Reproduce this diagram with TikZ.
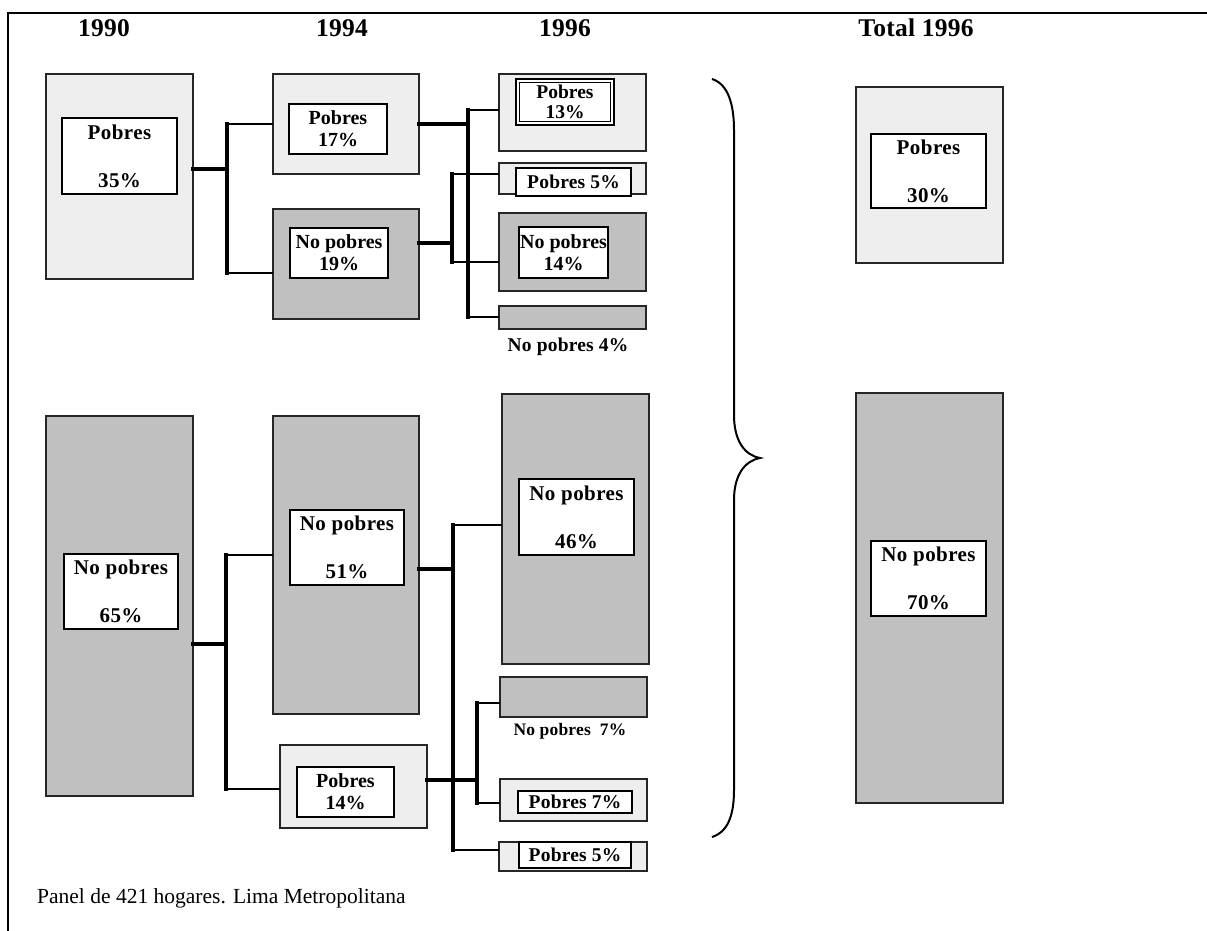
\documentclass[tikz,border=0pt]{standalone}
\usepackage{fontspec}
\setmainfont{Liberation Serif}
\newfontfamily\spacedf{Liberation Serif}[LetterSpace=2]
\newfontfamily\smallf{Liberation Serif}[LetterSpace=1]
\usetikzlibrary{fit}
\definecolor{lightfill}{HTML}{EEEEEE}
\definecolor{darkfill}{HTML}{C0C0C0}
\tikzset{
  basebox/.style={draw=black!85, line width=1.3pt, inner sep=0pt, outer sep=0pt},
  lightbox/.style={basebox, fill=lightfill},
  darkbox/.style={basebox, fill=darkfill},
  whitebox/.style={draw=black, line width=1.3pt, fill=white, inner sep=0pt, outer sep=0pt},
  label/.style={inner sep=0pt, align=center, font=\spacedf\bfseries\fontsize{21}{22}\selectfont},
  tightlabel/.style={inner sep=0pt, align=center, font=\bfseries\fontsize{20}{22}\selectfont},
  smalllabel/.style={inner sep=0pt, align=center, font=\smallf\bfseries\fontsize{19.5}{20}\selectfont},
  header/.style={font=\smallf\bfseries\fontsize{25.5}{28}\selectfont},
  thickc/.style={line width=4pt, line cap=rect},
  thinc/.style={line width=1.5pt},
}
\begin{document}
\begin{tikzpicture}[x=1pt, y=-1pt]
\useasboundingbox (0,0) rectangle (1207,931);
% frame
\draw[line width=2pt] (8,931) -- (8,13) -- (1207,13);
% headers
\node[header] (h1) at (104,28) {1990};
\node[header] (h2) at (342,28) {1994};
\node[header] (h3) at (565,28) {1996};
\node[header] (h4) at (916,28) {Total 1996};
% 1990
\node[lightbox, fit={(46,74) (193,279)}] (b90p) {};
\node[whitebox, fit={(62,118) (177,194)}] (i90p) {};
\node[label] (t90p) at (i90p.center) {Pobres\\[26pt]35\%};
\node[darkbox, fit={(46,416) (193,796)}] (b90n) {};
\node[whitebox, fit={(64,554) (178,629)}] (i90n) {};
\node[label] (t90n) at (i90n.center) {No pobres\\[26pt]65\%};
% 1994
\node[lightbox, fit={(273,74) (419,174)}] (b94p) {};
\node[whitebox, fit={(289,104) (387,154)}] (i94p) {};
\node[tightlabel] (t94p) at (i94p.center) {Pobres\\17\%};
\node[darkbox, fit={(273,209) (419,319)}] (b94n) {};
\node[whitebox, fit={(290,228) (388,278)}] (i94n) {};
\node[tightlabel] (t94n) at (i94n.center) {No pobres\\19\%};
\node[darkbox, fit={(273,416) (419,714)}] (b51) {};
\node[whitebox, fit={(290,510) (404,585)}] (i51) {};
\node[label] (t51) at (i51.center) {No pobres\\[26pt]51\%};
\node[lightbox, fit={(280,745) (427,828)}] (b14) {};
\node[whitebox, fit={(297,767) (394,817)}] (i14b) {};
\node[tightlabel] (t14b) at (i14b.center) {Pobres\\14\%};
% 1996
\node[lightbox, fit={(499,74) (646,151)}] (c13) {};
\node[whitebox, fit={(516,79) (614,125)}] (i13) {};
\node[draw=black, line width=0.6pt, inner sep=0pt, fit={(519.5,82.5) (610.5,121.5)}] (i13in) {};
\node[tightlabel, font=\bfseries\fontsize{19.5}{20}\selectfont] (t13) at (i13.center) {Pobres\\13\%};
\node[lightbox, fit={(499,163) (646,194)}] (c5) {};
\node[whitebox, fit={(516,168) (631,196)}] (i5) {};
\node[smalllabel] (t5) at (i5.center) {Pobres 5\%};
\node[darkbox, fit={(499,213) (646,291)}] (c14) {};
\node[whitebox, fit={(519,227) (608,278)}] (i14) {};
\node[tightlabel] (t14) at (i14.center) {No pobres\\14\%};
\node[darkbox, fit={(499,306) (646,329)}] (c4) {};
\node[smalllabel] (l4) at (568,347) {No pobres 4\%};
\node[darkbox, fit={(502,394) (649,664)}] (c46) {};
\node[whitebox, fit={(519,479) (634,555)}] (i46) {};
\node[label] (t46) at (i46.center) {No pobres\\[26pt]46\%};
\node[darkbox, fit={(500,677) (647,717)}] (c7n) {};
\node[smalllabel, font=\smallf\bfseries\fontsize{17.5}{18}\selectfont] (l7) at (570,731) {No pobres\ \ 7\%};
\node[lightbox, fit={(500,779) (647,821)}] (c7p) {};
\node[whitebox, fit={(518,791) (632,813)}] (i7) {};
\node[smalllabel] (t7) at (i7.center) {Pobres 7\%};
\node[lightbox, fit={(499,842) (647,871)}] (c5b) {};
\node[whitebox, fit={(519,842) (631,868)}] (i5b) {};
\node[smalllabel] (t5b) at (i5b.center) {Pobres 5\%};
% Total 1996
\node[lightbox, fit={(856,87) (1003,263)}] (tp) {};
\node[whitebox, fit={(871,134) (986,208)}] (itp) {};
\node[label] (ttp) at (itp.center) {Pobres\\[26pt]30\%};
\node[darkbox, fit={(856,393) (1003,803)}] (tn) {};
\node[whitebox, fit={(871,541) (986,616)}] (itn) {};
\node[label] (ttn) at (itn.center) {No pobres\\[26pt]70\%};
% junction coordinates
\coordinate (ja) at (227,169); \coordinate (ja1) at (227,124); \coordinate (ja2) at (227,273);
\coordinate (jb) at (468,124); \coordinate (jb1) at (468,110); \coordinate (jb2) at (468,317);
\coordinate (jc) at (452,243); \coordinate (jc1) at (452,174); \coordinate (jc2) at (452,262);
\coordinate (jd) at (226,644); \coordinate (jd1) at (226,555); \coordinate (jd2) at (226,789);
\coordinate (je) at (453,569); \coordinate (je1) at (453,525); \coordinate (je2) at (453,850);
\coordinate (jf) at (477,780); \coordinate (jf1) at (477,703); \coordinate (jf2) at (477,803);
% thin branches
\draw[thinc] (ja1) -- (b94p.west |- ja1);
\draw[thinc] (ja2) -- (b94n.west |- ja2);
\draw[thinc] (jb1) -- (c13.west |- jb1);
\draw[thinc] (jb2) -- (c4.west |- jb2);
\draw[thinc] (jc1) -- (c5.west |- jc1);
\draw[thinc] (jc2) -- (c14.west |- jc2);
\draw[thinc] (jd1) -- (b51.west |- jd1);
\draw[thinc] (jd2) -- (b14.west |- jd2);
\draw[thinc] (je1) -- (c46.west |- je1);
\draw[thinc] (je2) -- (c5b.west |- je2);
\draw[thinc] (jf1) -- (c7n.west |- jf1);
\draw[thinc] (jf2) -- (c7p.west |- jf2);
% thick trunks
\draw[thickc] (b90p.east |- ja) -- (ja);
\draw[thickc] (ja1) -- (ja2);
\draw[thickc] (b94p.east |- jb) -- (jb);
\draw[thickc] (jb1) -- (jb2);
\draw[thickc] (b94n.east |- jc) -- (jc);
\draw[thickc] (jc1) -- (jc2);
\draw[thickc] (b90n.east |- jd) -- (jd);
\draw[thickc] (jd1) -- (jd2);
\draw[thickc] (b51.east |- je) -- (je);
\draw[thickc] (je1) -- (je2);
\draw[thickc] (b14.east |- jf) -- (jf);
\draw[thickc] (jf1) -- (jf2);
% brace
\draw[line width=2pt] (712,79) .. controls (728,84) and (734,104) .. (734,130)
  -- (734,415) .. controls (734,440) and (744,455) .. (760,458)
  .. controls (744,461) and (734,476) .. (734,500)
  -- (734,790) .. controls (734,815) and (728,832) .. (712,837);
% caption
\node[anchor=west, inner sep=0pt, font=\fontsize{21.5}{24}\selectfont] (cap) at (37,898) {Panel de 421 hogares. Lima Metropolitana};
\end{tikzpicture}
\end{document}
